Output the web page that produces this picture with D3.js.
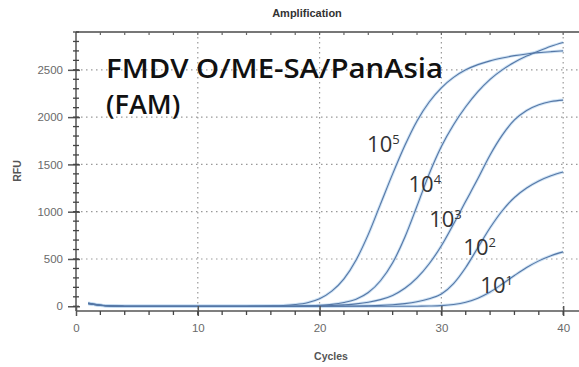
<!DOCTYPE html>
<html lang="en">
<head>
<meta charset="utf-8">
<title>Amplification</title>
<script src="https://cdn.jsdelivr.net/npm/d3@7"></script>
<style>
body { margin: 0; background: #fff; }
.tick text { font-family: "Liberation Sans", Arial, sans-serif; font-size: 11.5px; fill: #6a6a6a; }
.axis path, .axis line { stroke: #555; stroke-width: 1.5px; }
</style>
</head>
<body>
<script>
var w = 579, h = 367;

// cycles 1..40
var cycles = d3.range(1, 41);

// RFU per cycle
var s1e5 = [35,12,3,1,0,0,0,0,0,0,0,0,0,1,2,4,8,18,38,80,160,290,490,760,1080,1400,1700,1960,2160,2310,2420,2500,2555,2595,2625,2650,2668,2682,2692,2700];
var s1e4 = [33,11,3,1,0,0,0,0,0,0,0,0,0,0,0,0,1,2,5,10,20,40,75,145,270,460,730,1060,1400,1690,1920,2110,2270,2400,2500,2580,2645,2700,2750,2790];
var s1e3 = [30,10,3,1,0,0,0,0,0,0,0,0,0,0,0,0,0,1,2,4,8,15,25,42,70,115,190,300,450,640,870,1110,1350,1600,1810,1970,2070,2130,2165,2180];
var s1e2 = [28,10,2,0,0,0,0,0,0,0,0,0,0,0,0,0,0,0,0,0,1,2,3,5,9,16,28,48,80,130,240,410,620,830,1010,1150,1250,1325,1380,1420];
var s1e1 = [26,9,2,0,0,0,0,0,0,0,0,0,0,0,0,0,0,0,0,0,0,0,0,0,0,0,0,1,3,7,18,42,85,150,235,325,410,480,535,575];
var series = [s1e5, s1e4, s1e3, s1e2, s1e1];

// label text and anchor (cycle, RFU at baseline)
var labelExp = ["5", "4", "3", "2", "1"];
var labelCycle = [23.9, 27.3, 29.0, 31.8, 33.2];
var labelRfu = [1630, 1208, 837, 540, 138];

var yTicks = [0, 500, 1000, 1500, 2000, 2500];
var xTicks = [0, 10, 20, 30, 40];

var pL = 76, pR = 579, pT = 32, pB = 311;

var x = d3.scaleLinear().domain([0, 41.3]).range([pL, pR]);
var y = d3.scaleLinear().domain([-50, 2900]).range([pB, pT]);

var svg = d3.select("body").append("svg")
  .attr("width", w)
  .attr("height", h);

// grid
svg.append("g").selectAll("line")
  .data(yTicks.slice(1))
  .enter().append("line")
  .attr("x1", pL).attr("x2", pR)
  .attr("y1", function(d) { return y(d); })
  .attr("y2", function(d) { return y(d); })
  .attr("stroke", "#999")
  .attr("stroke-width", 1.2)
  .attr("stroke-dasharray", "1.5,3.5");
svg.append("g").selectAll("line")
  .data(xTicks.slice(1))
  .enter().append("line")
  .attr("x1", function(d) { return x(d); })
  .attr("x2", function(d) { return x(d); })
  .attr("y1", pT).attr("y2", pB)
  .attr("stroke", "#999")
  .attr("stroke-width", 1.2)
  .attr("stroke-dasharray", "1.5,3.5");

// top border with small ticks
svg.append("line")
  .attr("x1", pL).attr("x2", pR)
  .attr("y1", pT).attr("y2", pT)
  .attr("stroke", "#777").attr("stroke-width", 2);
svg.append("g").selectAll("line")
  .data(d3.range(2, 41, 2))
  .enter().append("line")
  .attr("x1", function(d) { return x(d); })
  .attr("x2", function(d) { return x(d); })
  .attr("y1", pT).attr("y2", pT + 3)
  .attr("stroke", "#666").attr("stroke-width", 1.2);

// curves
var line = d3.line()
  .x(function(d, i) { return x(cycles[i]); })
  .y(function(d) { return y(d); })
  .curve(d3.curveMonotoneX);

svg.append("g").selectAll("path.halo")
  .data(series)
  .enter().append("path")
  .attr("d", line)
  .attr("fill", "none")
  .attr("stroke", "#c2dbf1")
  .attr("stroke-width", 3)
  .attr("opacity", 0.8);
svg.append("g").selectAll("path.curve")
  .data(series)
  .enter().append("path")
  .attr("d", line)
  .attr("fill", "none")
  .attr("stroke", "#5577a6")
  .attr("stroke-width", 1.1);

// axes
var yAxis = d3.axisLeft(y).tickValues(yTicks).tickSize(8).tickPadding(5).tickFormat(d3.format("d"));
var gy = svg.append("g")
  .attr("class", "axis")
  .attr("transform", "translate(" + pL + ",0)")
  .call(yAxis);
gy.select(".domain").attr("d", "M0," + pT + "V" + pB);
gy.selectAll(".tick line").attr("x2", -8).attr("x1", 4);

svg.append("g").selectAll("line")
  .data(d3.range(0, 2901, 100))
  .enter().append("line")
  .attr("x1", pL - 3).attr("x2", pL + 3)
  .attr("y1", function(d) { return y(d); })
  .attr("y2", function(d) { return y(d); })
  .attr("stroke", "#444").attr("stroke-width", 1.3);

var xAxis = d3.axisBottom(x).tickValues(xTicks).tickSize(5).tickPadding(8);
var gx = svg.append("g")
  .attr("class", "axis")
  .attr("transform", "translate(0," + pB + ")")
  .call(xAxis);
gx.select(".domain").attr("d", "M" + pL + ",0H" + pR);
gx.selectAll(".tick line").attr("y1", -5);

svg.append("g").selectAll("line")
  .data(d3.range(2, 41, 2))
  .enter().append("line")
  .attr("x1", function(d) { return x(d); })
  .attr("x2", function(d) { return x(d); })
  .attr("y1", pB).attr("y2", pB + 4)
  .attr("stroke", "#444").attr("stroke-width", 1.3);

// titles
svg.append("text")
  .attr("x", 307).attr("y", 17)
  .attr("text-anchor", "middle")
  .attr("font-family", "Liberation Sans, Arial, sans-serif")
  .attr("font-weight", "bold")
  .attr("font-size", "11px")
  .attr("fill", "#333")
  .text("Amplification");

svg.append("text")
  .attr("x", 331).attr("y", 360)
  .attr("text-anchor", "middle")
  .attr("font-family", "Liberation Sans, Arial, sans-serif")
  .attr("font-weight", "bold")
  .attr("font-size", "10.5px")
  .attr("fill", "#555")
  .text("Cycles");

svg.append("text")
  .attr("transform", "translate(21,171) rotate(-90)")
  .attr("text-anchor", "middle")
  .attr("font-family", "Liberation Sans, Arial, sans-serif")
  .attr("font-weight", "bold")
  .attr("font-size", "10.5px")
  .attr("fill", "#555")
  .text("RFU");

// big annotation
var ann = svg.append("text")
  .attr("font-family", "Open Sans, sans-serif")
  .attr("font-weight", 600)
  .attr("font-size", "27px")
  .attr("fill", "#111");
ann.append("tspan").attr("x", 106).attr("y", 78)
  .attr("textLength", 337).attr("lengthAdjust", "spacingAndGlyphs")
  .text("FMDV O/ME-SA/PanAsia");
ann.append("tspan").attr("x", 106).attr("y", 114).text("(FAM)");

// dilution labels
var labs = svg.append("g").selectAll("text")
  .data(labelExp)
  .enter().append("text")
  .attr("x", function(d, i) { return x(labelCycle[i]); })
  .attr("y", function(d, i) { return y(labelRfu[i]); })
  .attr("font-family", "Open Sans, sans-serif")
  .attr("font-size", "22px")
  .attr("fill", "#333");
labs.append("tspan").text("10");
labs.append("tspan")
  .attr("dy", -8)
  .attr("font-size", "13px")
  .text(function(d) { return d; });
</script>
</body>
</html>
